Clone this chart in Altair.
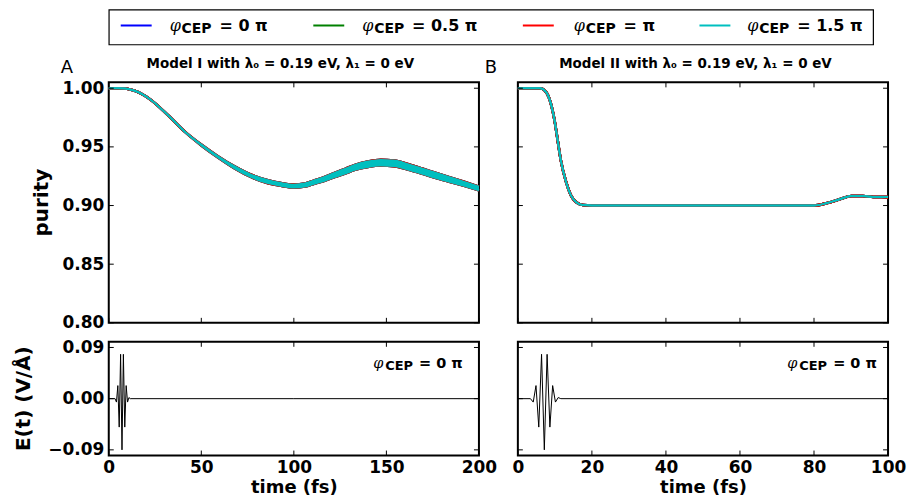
import altair as alt
import pandas as pd

# ---------------- data ----------------
SERIES = ["φCEP = 0 π", "φCEP = 0.5 π", "φCEP = π", "φCEP = 1.5 π"]
LEG_VALUE = ["= 0 π", "= 0.5 π", "= π", "= 1.5 π"]
COLORS = ["#0000ff", "#008000", "#ff0000", "#00bfbf"]

# Model I purity (band of the fast oscillation: lower / upper envelope)
T1 = [0, 5, 9, 14, 18, 23, 32, 41, 50, 59, 68, 77, 86, 93, 100, 106, 111, 117,
      122, 128, 133, 140, 147, 154, 162, 169, 176, 184, 192, 200]
P1_LO = [1.0000, 1.0000, 0.9998, 0.9978, 0.9950, 0.9898, 0.9770, 0.9630, 0.9513,
         0.9410, 0.9317, 0.9242, 0.9191, 0.9168, 0.9154, 0.9162, 0.9186, 0.9214,
         0.9242, 0.9275, 0.9304, 0.9329, 0.9341, 0.9336, 0.9305, 0.9273, 0.9239,
         0.9203, 0.9168, 0.9131]
P1_HI = [1.0000, 1.0000, 0.9998, 0.9978, 0.9950, 0.9898, 0.9770, 0.9632, 0.9519,
         0.9420, 0.9333, 0.9262, 0.9215, 0.9192, 0.9178, 0.9188, 0.9214, 0.9246,
         0.9278, 0.9315, 0.9346, 0.9375, 0.9389, 0.9384, 0.9351, 0.9317, 0.9281,
         0.9241, 0.9202, 0.9161]

# Model II purity
T2 = [0, 6, 7.2, 8.5, 9.9, 10.75, 11.6, 13.0, 14.3, 15.7, 17.5, 20, 40, 60, 80,
      83.3, 86.9, 90.1, 93.2, 96, 100]
P2 = [1.0000, 1.0000, 0.9983, 0.9912, 0.9728, 0.9557, 0.9387, 0.9203, 0.9089,
      0.9030, 0.9004, 0.9000, 0.9000, 0.9000, 0.9000, 0.9019, 0.9053, 0.9081,
      0.9081, 0.9073, 0.9072]

# Electric field for phi_CEP = 0 pi
FIELD_T = [0, 3.4, 4.15, 4.9, 5.65, 6.4, 7.15, 7.9, 8.65, 9.4, 10.15, 10.9, 11.6, 100, 200]
FIELD_E = [0, 0, -0.006, 0.023, -0.050, 0.078, -0.090, 0.078, -0.050, 0.023,
           -0.006, 0.002, 0, 0, 0]

X1_TICKS = [0, 50, 100, 150, 200]
X2_TICKS = [0, 20, 40, 60, 80, 100]
P_TICKS = [0.80, 0.85, 0.90, 0.95, 1.00]
E_TICKS = [-0.09, 0.0, 0.09]

# ---------------- layout constants ----------------
W = 371
HT = 241
HB = 114
P_DOM = [0.80, 1.005]
E_DOM = [-0.10, 0.10]
FONT = "DejaVu Sans"
ONE = pd.DataFrame({"a": [0]})


def txt(s, x, y, size, weight="bold", font=FONT, style="normal", align="left",
        baseline="alphabetic", angle=0):
    return alt.Chart(ONE).mark_text(
        text=s, fontSize=size, fontWeight=weight, font=font, fontStyle=style,
        align=align, baseline=baseline, color="black", angle=angle
    ).encode(x=alt.value(x), y=alt.value(y))


def ghost(x1, x2, y1, y2):
    # invisible box that fixes the layout bounds of a panel
    return alt.Chart(ONE).mark_rect(fillOpacity=0, strokeOpacity=0).encode(
        x=alt.value(x1), x2=alt.value(x2), y=alt.value(y1), y2=alt.value(y2))


def phi_label(x, y, big, small, value, dsub, dval):
    return [
        txt("φ", x, y, big, weight="normal", font="DejaVu Serif", style="italic"),
        txt("CEP", x + dsub, y + 2, small),
        txt(value, x + dval, y, big),
    ]


def inner_ticks(xs, ys, xax, yax, xt, yt, h):
    dx = pd.DataFrame({"t": xt})
    dy = pd.DataFrame({"p": yt})
    rx = alt.Chart(dx).mark_rule(color="black", strokeWidth=1)
    ry = alt.Chart(dy).mark_rule(color="black", strokeWidth=1)
    return [
        rx.encode(x=alt.X("t:Q", scale=xs, axis=xax), y=alt.value(0), y2=alt.value(5)),
        rx.encode(x=alt.X("t:Q", scale=xs, axis=xax), y=alt.value(h - 5), y2=alt.value(h)),
        ry.encode(y=alt.Y("p:Q", scale=ys, axis=yax), x=alt.value(0), x2=alt.value(5)),
        ry.encode(y=alt.Y("p:Q", scale=ys, axis=yax), x=alt.value(W - 5), x2=alt.value(W)),
    ]


def yaxis(values):
    return alt.Axis(values=values, format=".2f", title=None, ticks=False, domain=False,
                    grid=False, labelFontSize=17, labelFontWeight="bold", labelFont=FONT,
                    labelColor="black", labelPadding=5)


def xaxis(values):
    return alt.Axis(values=values, format="d", title="time (fs)", ticks=False, domain=False,
                    grid=False, labelFontSize=17, labelFontWeight="bold", labelFont=FONT,
                    labelColor="black", labelPadding=4, labelFlush=False,
                    labelOverlap=False, titleFontSize=18, titleFontWeight="bold",
                    titleFont=FONT, titleColor="black", titlePadding=3)


def purity_panel(t, lo, hi, xdom, xt, show_y, title, title_x, left, right, letters):
    xs = alt.Scale(domain=xdom, nice=False, zero=False)
    ys = alt.Scale(domain=P_DOM, nice=False, zero=False)
    yax = yaxis(P_TICKS) if show_y else None
    df = pd.DataFrame({"t": t, "lo": lo, "hi": hi})
    layers = [ghost(left, right, -30, HT + 12)]
    for i, c in enumerate(COLORS):
        sw = 2.0 if i == len(COLORS) - 1 else 2.6
        layers.append(alt.Chart(df).mark_area(color=c, interpolate="monotone").encode(
            x=alt.X("t:Q", scale=xs, axis=None),
            y=alt.Y("lo:Q", scale=ys, axis=yax), y2="hi:Q"))
        for f in ["lo", "hi"]:
            layers.append(alt.Chart(df).mark_line(color=c, strokeWidth=sw,
                                                  interpolate="monotone").encode(
                x=alt.X("t:Q", scale=xs, axis=None),
                y=alt.Y(f + ":Q", scale=ys, axis=yax)))
    layers += inner_ticks(xs, ys, None, yax, xt, P_TICKS, HT)
    layers.append(txt(title, title_x, -14, 13.5, align="center"))
    for letter, lx in letters:
        layers.append(txt(letter, lx, -9, 18, weight="normal", align="center"))
    if show_y:
        layers.append(txt("purity", -67, HT / 2, 20, align="center", baseline="middle",
                          angle=270))
    return alt.layer(*layers).properties(width=W, height=HT)


def field_panel(xdom, xt, show_y, ann_x, left, right):
    xs = alt.Scale(domain=xdom, nice=False, zero=False)
    ys = alt.Scale(domain=E_DOM, nice=False, zero=False)
    xax = xaxis(xt)
    yax = yaxis(E_TICKS) if show_y else None
    df = pd.DataFrame({"t": FIELD_T, "e": FIELD_E})
    df = df[df["t"] <= xdom[1]]
    layers = [ghost(left, right, -5, HB + 2)]
    layers.append(alt.Chart(df).mark_line(color="black", strokeWidth=1).encode(
        x=alt.X("t:Q", scale=xs, axis=xax),
        y=alt.Y("e:Q", scale=ys, axis=yax)))
    layers += inner_ticks(xs, ys, xax, yax, xt, E_TICKS, HB)
    layers += phi_label(ann_x, 26, 14.5, 13, "= 0 π", 12, 46)
    if show_y:
        layers.append(txt("E(t) (V/Å)", -85, HB / 2, 20, align="center",
                          baseline="middle", angle=270))
    return alt.layer(*layers).properties(width=W, height=HB)


def legend_chart():
    LW, LH = 766, 35
    layers = [ghost(-89, LW, 0, LH)]
    line_x = [12, 205, 415, 592]
    text_x = [61, 254, 466, 640]
    for c, lx, tx, v in zip(COLORS, line_x, text_x, LEG_VALUE):
        layers.append(alt.Chart(ONE).mark_rule(color=c, strokeWidth=2).encode(
            x=alt.value(lx), x2=alt.value(lx + 31), y=alt.value(16)))
        layers += phi_label(tx, 22, 16, 14, v, 12, 50)
    return alt.layer(*layers).properties(
        width=LW, height=LH,
        view=alt.ViewBackground(stroke="black", strokeWidth=1.2))


title1 = "Model I with λ₀ = 0.19 eV, λ₁ = 0 eV"
title2 = "Model II with λ₀ = 0.19 eV, λ₁ = 0 eV"

# panel B starts 37 px right of panel A; the "B" letter sits 25 px left of panel B
A_RIGHT = W + 25
B_LEFT = -8
GAP = 37 - (A_RIGHT - W) + B_LEFT

topA = purity_panel(T1, P1_LO, P1_HI, [0, 200], X1_TICKS, True, title1, 172, -94, A_RIGHT,
                    [("A", -42), ("B", W + 37 - 25)])
topB = purity_panel(T2, P2, P2, [0, 100], X2_TICKS, False, title2, 178, B_LEFT, W + 2, [])
botA = field_panel([0, 200], X1_TICKS, True, 265, -94, A_RIGHT)
botB = field_panel([0, 100], X2_TICKS, False, 270, B_LEFT, W + 2)

# vertical gap of 17 px between the upper and lower frames
colA = alt.vconcat(topA, botA, spacing=0)
colB = alt.vconcat(topB, botB, spacing=0)
panels = alt.hconcat(colA, colB, spacing=GAP)
chart = alt.vconcat(legend_chart(), panels, spacing=6).properties(
    padding={"left": 13, "top": 8, "right": 0, "bottom": 0},
    background="white",
).configure(font=FONT).configure_view(stroke="black", strokeWidth=2)

chart.save("out.html", embed_options={"renderer": "svg", "actions": False})
